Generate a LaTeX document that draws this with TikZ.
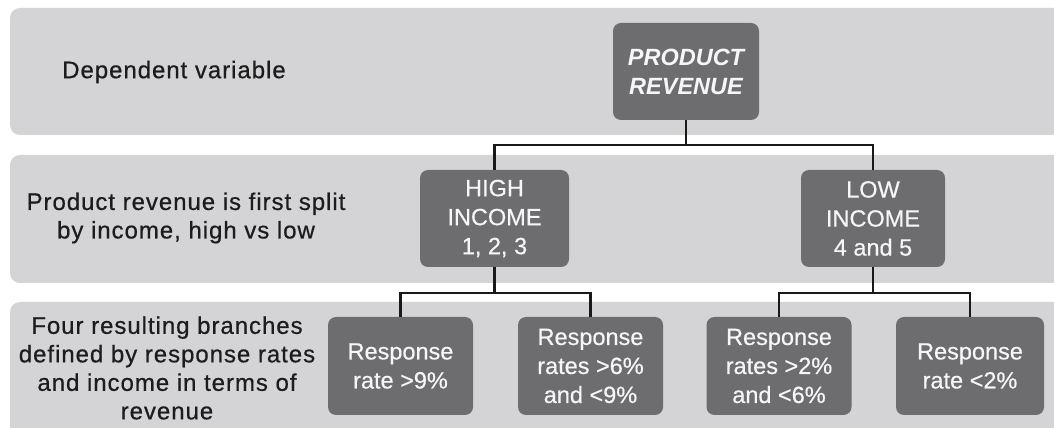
\documentclass[tikz,border=0pt]{standalone}
\usepackage{fontspec}
\setmainfont{Liberation Sans}
\newfontfamily\labfont[LetterSpace=4,FakeBold=0.6]{Liberation Sans}
\newfontfamily\boxfont[FakeBold=0.5]{Liberation Sans}
\definecolor{bandgray}{RGB}{212,212,214}
\definecolor{boxgray}{RGB}{109,109,111}
\definecolor{boxtext}{RGB}{246,246,246}
\definecolor{labtext}{RGB}{28,28,28}
\definecolor{linecol}{RGB}{25,25,25}
\tikzset{
  band/.style={fill=bandgray, rounded corners=10pt},
  tbox/.style={fill=boxgray, rounded corners=8pt, text=boxtext, align=center,
    inner sep=0pt, font=\boxfont\fontsize{23.5}{29}\selectfont},
  lab/.style={text=labtext, align=center, inner sep=0pt,
    font=\labfont\fontsize{24}{28.5}\selectfont},
  conn/.style={draw=linecol, line width=2.6pt}
}
\begin{document}
\begin{tikzpicture}[x=1pt,y=1pt]
\clip (0,0) rectangle (1054,428);
\fill[white] (0,0) rectangle (1054,428);
% bands
\path[band] (10,420) rectangle (1075,293);
\path[band] (10,273) rectangle (1075,145);
\path[band] (10,126) rectangle (1075,-20);
% labels
\node[lab] (l1) at (174,356) {Dependent variable};
\node[lab] (l2) at (186,210) {Product revenue is first split\\by income, high vs low};
\node[lab] (l3) at (167,60) {Four resulting branches\\defined by response rates\\and income in terms of\\revenue};
% boxes
\node[tbox, minimum width=146pt, minimum height=97pt, font=\fontsize{23.5}{29}\selectfont\bfseries\itshape] (pr) at (686,356.5) {PRODUCT\\REVENUE};
\node[tbox, minimum width=149pt, minimum height=97pt] (hi) at (494.5,209.5) {HIGH\\INCOME\\1, 2, 3};
\node[tbox, minimum width=144pt, minimum height=97pt] (lo) at (873,209.5) {LOW\\INCOME\\4 and 5};
\node[tbox, minimum width=145pt, minimum height=98pt] (b1) at (400.5,62) {Response\\rate >9\%};
\node[tbox, minimum width=145pt, minimum height=98pt] (b2) at (590.5,62) {Response\\rates >6\%\\and <9\%};
\node[tbox, minimum width=145pt, minimum height=98pt] (b3) at (779,62) {Response\\rates >2\%\\and <6\%};
\node[tbox, minimum width=148pt, minimum height=98pt] (b4) at (970,62) {Response\\rate <2\%};
% junction levels
\coordinate (j1) at (686,283);
\coordinate (j2) at (494.5,135);
\coordinate (j3) at (873,135);
% connectors
\draw[conn] (pr.south) -- (j1) -| (hi.north);
\draw[conn] (j1) -| (lo.north);
\draw[conn] (hi.south) -- (j2) -| (b1.north);
\draw[conn] (j2) -| (b2.north);
\draw[conn] (lo.south) -- (j3) -| (b3.north);
\draw[conn] (j3) -| (b4.north);
\end{tikzpicture}
\end{document}
